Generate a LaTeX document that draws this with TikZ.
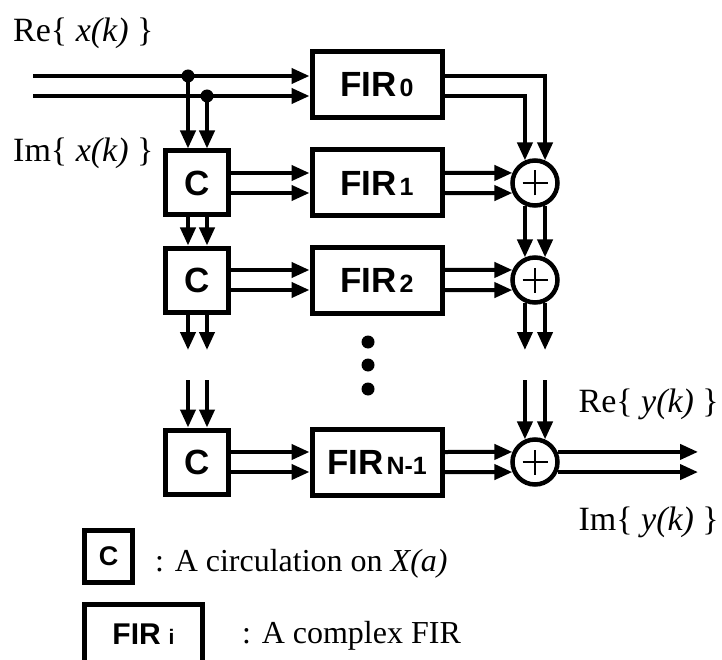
\documentclass[tikz,border=0pt]{standalone}
\usepackage{fontspec}
\setmainfont{Liberation Serif}
\newfontfamily\hv{Liberation Sans}
\usetikzlibrary{arrows.meta,calc}
\begin{document}
\begin{tikzpicture}[x=1pt,y=-1pt,
  arr/.style={line width=4pt,-{Triangle[length=18pt,width=15pt]}},
  cbox/.style={draw,line width=5pt,minimum width=63pt,minimum height=64pt,inner sep=0pt,font=\hv\bfseries\fontsize{35}{35}\selectfont},
  firbox/.style={draw,line width=5pt,minimum width=130pt,minimum height=66pt,inner sep=0pt,font=\hv\bfseries\fontsize{35}{35}\selectfont},
  sumnode/.style={draw,circle,line width=4.5pt,minimum size=45pt,inner sep=0pt,
    path picture={\draw[line width=2.7pt] ([xshift=-12.5pt]path picture bounding box.center) -- ([xshift=12.5pt]path picture bounding box.center);
                  \draw[line width=2.7pt] ([yshift=-12.5pt]path picture bounding box.center) -- ([yshift=12.5pt]path picture bounding box.center);}},
  lbl/.style={inner sep=0pt,font=\fontsize{34}{40}\selectfont},
  legtxt/.style={inner sep=0pt,font=\fontsize{32}{38}\selectfont},
  legc/.style={draw,line width=5pt,minimum width=48pt,minimum height=52pt,inner sep=0pt,font=\hv\bfseries\fontsize{27}{27}\selectfont},
  legf/.style={draw,line width=5pt,minimum width=118pt,minimum height=60pt,inner sep=0pt,font=\hv\bfseries\fontsize{30}{30}\selectfont}]
\clip (0,0) rectangle (722,660);

% blocks
\node[firbox] (fir0) at (377,85) {FIR\hspace{3pt}{\fontsize{25}{25}\selectfont 0}};
\node[firbox] (fir1) at (377,183) {FIR\hspace{3pt}{\fontsize{25}{25}\selectfont 1}};
\node[firbox] (fir2) at (377,280) {FIR\hspace{3pt}{\fontsize{25}{25}\selectfont 2}};
\node[firbox] (firn) at (377,462) {FIR\hspace{3pt}{\fontsize{25}{25}\selectfont N-1}};
\node[cbox] (c1) at (197,183) {C};
\node[cbox] (c2) at (197,280) {C};
\node[cbox] (c3) at (197,462) {C};
\node[sumnode] (s1) at (535,183) {};
\node[sumnode] (s2) at (535,280) {};
\node[sumnode] (s3) at (535,462) {};

% helper coordinates
\coordinate (ina) at (33,76);
\coordinate (inb) at (33,96);
\coordinate (d1) at (188,76);
\coordinate (d2) at (207,96);
\coordinate (ga) at (197,350);
\coordinate (gb) at (197,380);
\coordinate (out) at (698,462);

% input
\draw[arr] (ina) -- (ina -| fir0.west);
\draw[arr] (inb) -- (inb -| fir0.west);
\fill (d1) circle (6.5);
\fill (d2) circle (6.5);
\draw[arr] (d1) -- (d1 |- c1.north);
\draw[arr] (d2) -- (d2 |- c1.north);

% C chain
\draw[arr] ($(c1.east)+(0,-10)$) -- ($(fir1.west)+(0,-10)$);
\draw[arr] ($(c1.east)+(0,10)$) -- ($(fir1.west)+(0,10)$);
\draw[arr] (c1.south -| d1) -- (c2.north -| d1);
\draw[arr] (c1.south -| d2) -- (c2.north -| d2);
\draw[arr] ($(c2.east)+(0,-10)$) -- ($(fir2.west)+(0,-10)$);
\draw[arr] ($(c2.east)+(0,10)$) -- ($(fir2.west)+(0,10)$);
\draw[arr] (c2.south -| d1) -- (ga -| d1);
\draw[arr] (c2.south -| d2) -- (ga -| d2);
\draw[arr] (gb -| d1) -- (c3.north -| d1);
\draw[arr] (gb -| d2) -- (c3.north -| d2);
\draw[arr] ($(c3.east)+(0,-10)$) -- ($(firn.west)+(0,-10)$);
\draw[arr] ($(c3.east)+(0,10)$) -- ($(firn.west)+(0,10)$);

% FIR outputs
\draw[arr] (ina -| fir0.east) -| (s1.66);
\draw[arr] (inb -| fir0.east) -| (s1.114);
\draw[arr] ($(fir1.east)+(0,-10)$) -- (s1.156);
\draw[arr] ($(fir1.east)+(0,10)$) -- (s1.204);
\draw[arr] ($(fir2.east)+(0,-10)$) -- (s2.156);
\draw[arr] ($(fir2.east)+(0,10)$) -- (s2.204);
\draw[arr] ($(firn.east)+(0,-10)$) -- (s3.156);
\draw[arr] ($(firn.east)+(0,10)$) -- (s3.204);

% adder chain
\draw[arr] (s1.-66) -- (s2.66);
\draw[arr] (s1.-114) -- (s2.114);
\draw[arr] (s2.-66) -- (s2.-66 |- ga);
\draw[arr] (s2.-114) -- (s2.-114 |- ga);
\draw[arr] (s3.66 |- gb) -- (s3.66);
\draw[arr] (s3.114 |- gb) -- (s3.114);
\draw[arr] (s3.24) -- (s3.24 -| out);
\draw[arr] (s3.-24) -- (s3.-24 -| out);

% ellipsis
\fill (368,342) circle (6.5);
\fill (368,365) circle (6.5);
\fill (368,389) circle (6.5);

% labels
\node[lbl,anchor=west] (rex) at (13,33) {Re\{ \textit{x(k)} \}};
\node[lbl,anchor=west] (imx) at (13,153) {Im\{ \textit{x(k)} \}};
\node[lbl,anchor=east] (rey) at (719,404) {Re\{ \textit{y(k)} \}};
\node[lbl,anchor=east] (imy) at (719,522) {Im\{ \textit{y(k)} \}};

% legend
\node[legc] (lc) at (108.5,556) {C};
\node[legtxt,anchor=west] (lct) at (155,564) {: A circulation on \textit{X(a)}};
\node[legf] (lf) at (143.5,634.5) {FIR\hspace{8pt}{\fontsize{21}{21}\selectfont i}};
\node[legtxt,anchor=west] (lft) at (242,636) {: A complex FIR};
\end{tikzpicture}
\end{document}
